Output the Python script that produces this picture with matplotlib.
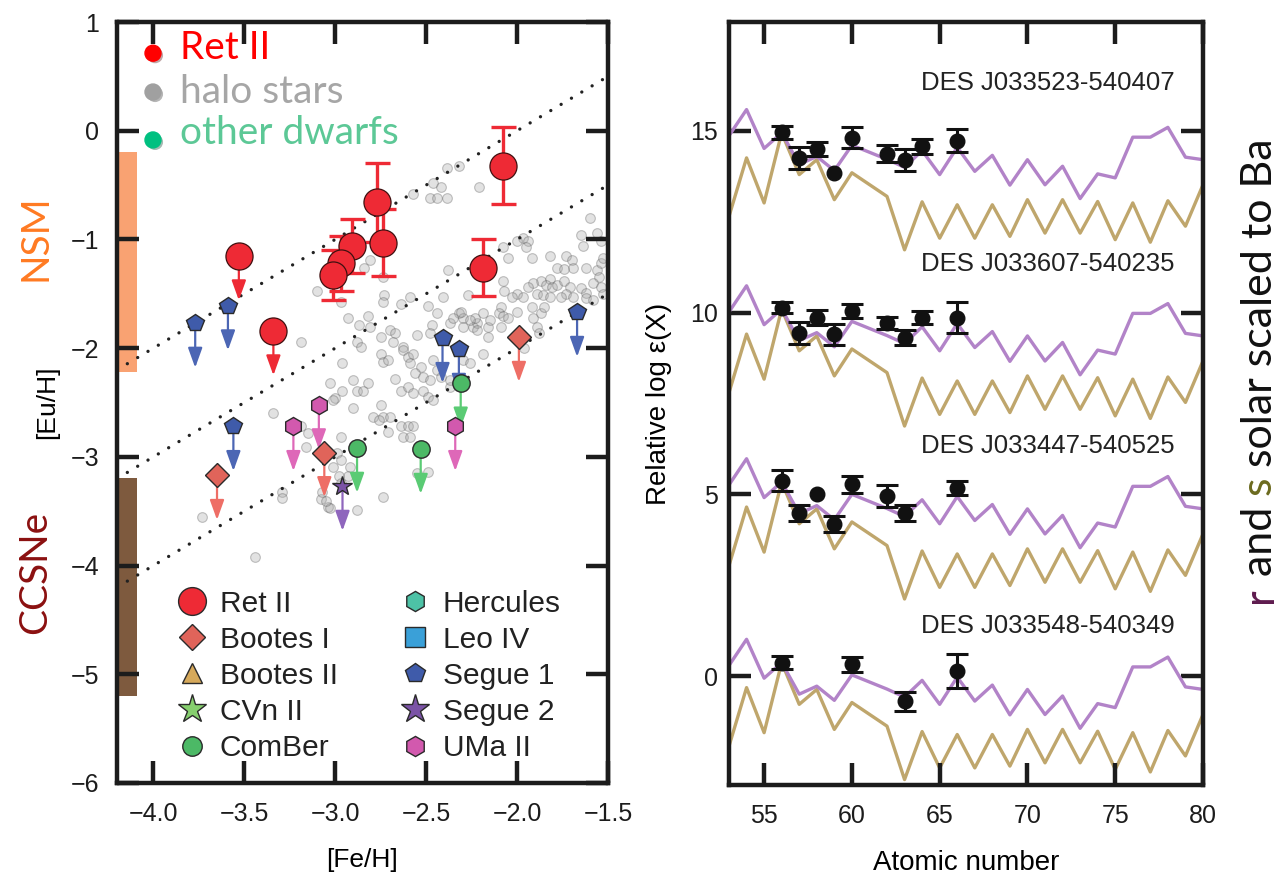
import numpy as np
import matplotlib
matplotlib.use("Agg")
import matplotlib.pyplot as plt
from matplotlib.lines import Line2D
from matplotlib.patches import Rectangle
from matplotlib.font_manager import FontProperties
import matplotlib.patheffects as pe

plt.rcParams['font.family'] = ['Liberation Sans', 'DejaVu Sans']
plt.rcParams['axes.unicode_minus'] = True

# ---------------- left panel: [Eu/H] vs [Fe/H] ----------------
halo_stars = [
    (-2.385, -0.34), (-2.32, -0.32), (-2.46, -0.48), (-2.42, -0.52), (-2.48, -0.62), (-2.44, -0.62),
    (-2.385, -0.62), (-2.21, -0.52), (-2.57, -0.58), (-1.60, -0.80), (-1.65, -0.96), (-1.56, -0.94),
    (-1.54, -1.01), (-1.64, -1.06), (-1.97, -0.99), (-2.00, -1.01), (-2.08, -1.07), (-1.94, -1.01),
    (-1.95, -1.07), (-1.92, -1.17), (-2.05, -1.17), (-1.82, -1.15), (-1.73, -1.15), (-1.70, -1.19),
    (-1.69, -1.26), (-1.56, -1.28), (-1.54, -1.22), (-1.55, -1.35), (-1.53, -1.17), (-1.62, -1.26),
    (-1.78, -1.26), (-1.74, -1.27), (-1.82, -1.36), (-1.87, -1.38), (-1.91, -1.40), (-1.94, -1.44),
    (-1.84, -1.42), (-1.81, -1.44), (-1.78, -1.42), (-1.74, -1.38), (-1.71, -1.44), (-1.73, -1.50),
    (-1.76, -1.53), (-1.69, -1.53), (-1.65, -1.45), (-1.62, -1.49), (-1.58, -1.40), (-1.54, -1.44),
    (-1.53, -1.50), (-2.00, -1.50), (-1.97, -1.53), (-2.03, -1.53), (-2.08, -1.38), (-2.07, -1.47),
    (-1.89, -1.50), (-1.86, -1.51), (-1.82, -1.53), (-2.09, -1.62), (-2.10, -1.68), (-2.08, -1.70),
    (-2.05, -1.72), (-2.00, -1.67), (-1.92, -1.62), (-1.91, -1.72), (-1.87, -1.68), (-1.85, -1.62),
    (-2.32, -1.68), (-2.30, -1.72), (-2.24, -1.81), (-2.22, -1.77), (-2.23, -1.72), (-2.19, -1.68),
    (-2.16, -1.81), (-2.15, -1.74), (-2.09, -1.81), (-2.27, -1.51), (-2.26, -1.74), (-2.30, -1.81),
    (-2.37, -1.77), (-2.35, -1.72), (-1.96, -2.00), (-1.89, -1.81), (-1.88, -1.86), (-1.62, -1.54),
    (-1.58, -1.56), (-2.30, -2.11), (-2.26, -2.14), (-2.37, -2.36), (-2.81, -1.19), (-2.84, -1.26),
    (-3.10, -1.47), (-2.97, -1.58), (-2.73, -1.51), (-2.74, -1.58), (-2.64, -1.59), (-2.59, -1.53),
    (-2.49, -1.61), (-2.41, -1.53), (-2.38, -1.28), (-2.31, -1.67), (-2.93, -1.72), (-2.82, -1.70),
    (-2.87, -1.79), (-2.81, -1.81), (-2.75, -1.90), (-2.70, -1.83), (-2.67, -1.86), (-2.68, -1.94),
    (-2.63, -1.99), (-2.55, -1.88), (-2.47, -1.79), (-2.48, -1.86), (-3.19, -1.94), (-2.96, -2.14),
    (-2.88, -1.94), (-2.86, -1.99), (-2.75, -2.05), (-2.74, -2.13), (-2.71, -2.11), (-2.63, -2.02),
    (-2.60, -2.08), (-2.59, -2.14), (-2.57, -2.05), (-2.53, -2.17), (-2.56, -2.23), (-2.52, -2.27),
    (-2.46, -2.11), (-2.44, -2.20), (-2.48, -2.29), (-2.42, -2.27), (-2.37, -2.29), (-2.67, -2.28),
    (-2.64, -2.39), (-2.60, -2.36), (-2.57, -2.41), (-2.52, -2.39), (-2.49, -2.45), (-2.46, -2.48),
    (-2.90, -2.29), (-2.88, -2.39), (-2.82, -2.32), (-2.85, -2.39), (-3.03, -2.32), (-3.00, -2.46),
    (-2.90, -2.55), (-2.75, -2.52), (-2.74, -2.63), (-2.70, -2.63), (-2.79, -2.63), (-2.76, -2.66),
    (-2.64, -2.72), (-2.60, -2.72), (-2.57, -2.72), (-2.63, -2.82), (-2.59, -2.82), (-2.71, -2.77),
    (-3.16, -2.91), (-3.19, -2.72), (-2.97, -2.82), (-2.99, -2.96), (-2.97, -3.03), (-3.01, -3.09),
    (-2.92, -3.09), (-2.93, -3.18), (-2.49, -3.14), (-2.55, -3.15), (-3.08, -3.39), (-3.04, -3.46),
    (-3.03, -3.47), (-2.74, -3.37), (-2.88, -3.49), (-2.74, -1.35), (-3.34, -2.60), (-3.01, -2.48),
    (-2.96, -2.39), (-3.15, -2.78), (-3.73, -3.55), (-3.44, -3.92), (-3.29, -3.32), (-3.29, -3.38),
    (-3.07, -3.32), (-3.05, -3.41), (-2.98, -3.18), (-2.97, -3.24), (-2.22, -1.83), (-2.16, -1.90),
    (-2.19, -2.05), (-2.44, -1.68),
]

retii_feh = [-2.77, -2.74, -2.91, -2.97, -3.01, -2.08, -2.19]
retii_euh = [-0.66, -1.03, -1.06, -1.22, -1.33, -0.32, -1.26]
retii_err = [0.36, 0.31, 0.25, 0.25, 0.23, 0.35, 0.26]
retii_lim_feh = [-3.53, -3.34]
retii_lim_euh = [-1.15, -1.84]

segue1_feh = [-3.77, -3.59, -3.56, -2.41, -2.32, -1.67]
segue1_euh = [-1.77, -1.61, -2.72, -1.91, -2.01, -1.67]
bootes1_feh = [-1.99, -3.06, -3.65]
bootes1_euh = [-1.90, -2.96, -3.17]
comber_feh = [-2.31, -2.88, -2.53]
comber_euh = [-2.32, -2.92, -2.93]
umaii_feh = [-3.09, -3.23, -2.34]
umaii_euh = [-2.52, -2.72, -2.72]
segue2_feh = [-2.96]
segue2_euh = [-3.27]

ref_offsets = [2.0, 1.0, 0.0]          # [Eu/H] = [Fe/H] + offset
nsm_range = (-0.20, -2.22)
ccsne_range = (-3.19, -5.20)

legend_names = ["Ret II", "Bootes I", "Bootes II", "CVn II", "ComBer",
                "Hercules", "Leo IV", "Segue 1", "Segue 2", "UMa II"]

# ---------------- right panel: abundance patterns ----------------
Z = [53, 54, 55, 56, 57, 58, 59, 60, 62, 63, 64, 65, 66, 67, 68, 69, 70,
     71, 72, 73, 74, 75, 76, 77, 78, 79, 80]
r_solar_rel_ba = [-0.08, 0.64, -0.43, 0.00, -0.87, -0.65, -1.04, -0.34, -0.73, -0.95,
                  -0.49, -1.15, -0.40, -1.06, -0.62, -1.44, -0.74, -1.43, -0.92, -1.81,
                  -1.13, -1.24, -0.12, -0.12, 0.15, -0.67, -0.74]
s_solar_rel_ba = [-2.30, -0.69, -1.93, 0.00, -1.15, -0.74, -1.84, -1.10, -1.75, -3.22,
                  -1.90, -2.90, -1.98, -2.90, -1.98, -2.85, -1.84, -2.76, -1.84, -2.76,
                  -1.89, -2.94, -1.93, -3.01, -1.87, -2.57, -1.43]

star_names = ["DES J033523-540407", "DES J033607-540235",
              "DES J033447-540525", "DES J033548-540349"]
star_ba = [14.95, 10.10, 5.34, 0.37]
star_label_y = [16.33, 11.34, 6.33, 1.38]
obs_z = [[56, 57, 58, 59, 60, 62, 63, 64, 66],
         [56, 57, 58, 59, 60, 62, 63, 64, 66],
         [56, 57, 58, 59, 60, 62, 63, 66],
         [56, 60, 63, 66]]
obs_val = [[14.96, 14.25, 14.50, 13.85, 14.81, 14.38, 14.21, 14.58, 14.73],
           [10.14, 9.45, 9.86, 9.40, 10.05, 9.72, 9.31, 9.86, 9.86],
           [5.37, 4.49, 5.00, 4.18, 5.28, 4.95, 4.49, 5.18],
           [0.37, 0.32, -0.69, 0.14]]
obs_err = [[0.19, 0.30, 0.20, 0.00, 0.29, 0.24, 0.30, 0.20, 0.32],
           [0.16, 0.30, 0.20, 0.30, 0.20, 0.17, 0.20, 0.18, 0.43],
           [0.29, 0.23, 0.00, 0.23, 0.23, 0.30, 0.23, 0.20],
           [0.19, 0.21, 0.26, 0.46]]

# ---------------- figure ----------------
W, H = 1279, 884
fig = plt.figure(figsize=(W / 100, H / 100), dpi=100)


def px_box(l, t, r, b):
    return [l / W, 1 - b / H, (r - l) / W, (b - t) / H]


axL = fig.add_axes(px_box(117, 22, 608, 783))
axR = fig.add_axes(px_box(729, 22, 1203, 785))

ink = '#1c1c1c'
for ax in (axL, axR):
    for s in ax.spines.values():
        s.set_linewidth(3.2)
        s.set_color(ink)
        s.set_zorder(10)
    ax.tick_params(which='major', direction='in', length=16, width=3.2,
                   top=True, right=True, labelsize=18, colors=ink)

# left panel
axL.set_xlim(-4.2, -1.5)
axL.set_ylim(-6, 1)
axL.set_xticks([-4.0, -3.5, -3.0, -2.5, -2.0, -1.5])
axL.set_yticks(range(-6, 2))
axL.tick_params(axis='y', pad=13)
axL.tick_params(axis='x', pad=14)
axL.set_xlabel('[Fe/H]', fontsize=19)
axL.xaxis.set_label_coords(0.5, -0.085)
axL.set_ylabel('[Eu/H]', fontsize=19)
axL.yaxis.set_label_coords(-0.118, 0.5)

# model ranges
axL.add_patch(Rectangle((-4.187, nsm_range[1]), 0.097, nsm_range[0] - nsm_range[1],
                        facecolor='#F9A272', edgecolor='none', zorder=0.5))
axL.add_patch(Rectangle((-4.187, ccsne_range[1]), 0.097, ccsne_range[0] - ccsne_range[1],
                        facecolor='#7E5A3E', edgecolor='none', zorder=0.5))

# halo stars
halo_feh, halo_euh = np.array(halo_stars).T
axL.plot(halo_feh, halo_euh, 'o', ls='none', ms=7, mfc='#a8a8a8', mec='#505050',
         mew=0.8, alpha=0.33, zorder=1)

# reference lines of slope one
xx = np.array(axL.get_xlim())
for c in ref_offsets:
    axL.plot(xx, xx + c, color='#222222', lw=2.4, ls=(0, (0.01, 3.6)),
             dash_capstyle='round', zorder=2)

arrow_len = 0.41


def limit_arrows(xs, ys, color):
    for x, y in zip(xs, ys):
        axL.annotate('', xy=(x, y - arrow_len), xytext=(x, y),
                     arrowprops=dict(arrowstyle='-|>,head_length=0.75,head_width=0.27',
                                     color=color, lw=1.6, shrinkA=0, shrinkB=0,
                                     mutation_scale=16),
                     zorder=3)


edge = '#2a2a2a'
# dwarf galaxy upper limits
limit_arrows(segue1_feh, segue1_euh, '#4C66B4')
limit_arrows(bootes1_feh, bootes1_euh, '#EE6E66')
limit_arrows(comber_feh, comber_euh, '#5ACB74')
limit_arrows(umaii_feh, umaii_euh, '#DE68B8')
limit_arrows(segue2_feh, segue2_euh, '#8F66BD')
limit_arrows(retii_lim_feh, retii_lim_euh, '#EE2A35')

axL.plot(segue1_feh, segue1_euh, 'p', ls='none', ms=13, mfc='#3F5BAA', mec=edge, mew=1, zorder=4)
axL.plot(bootes1_feh, bootes1_euh, 'D', ls='none', ms=12.5, mfc='#E0645A', mec=edge, mew=1, zorder=4)
axL.plot(comber_feh, comber_euh, 'o', ls='none', ms=12.5, mfc='#4CB966', mec=edge, mew=1, zorder=4)
axL.plot(umaii_feh, umaii_euh, 'h', ls='none', ms=13, mfc='#D259AE', mec=edge, mew=1, zorder=4)
axL.plot(segue2_feh, segue2_euh, '*', ls='none', ms=15, mfc='#7B53A6', mec=edge, mew=1, zorder=4)

# Ret II
axL.errorbar(retii_feh, retii_euh, yerr=retii_err, fmt='none', ecolor='#EE2A35',
             elinewidth=2.4, capsize=9, capthick=2.4, zorder=5)
axL.plot(retii_feh, retii_euh, 'o', ls='none', ms=19.5, mfc='#EE2A35', mec='#401010', mew=0.9, zorder=6)
axL.plot(retii_lim_feh, retii_lim_euh, 'o', ls='none', ms=19.5, mfc='#EE2A35', mec='#401010', mew=0.9, zorder=6)

# legend
legend_style = {
    "Ret II": ('o', '#EE2A35', 20),
    "Bootes I": ('D', '#E0645A', 13.5),
    "Bootes II": ('^', '#D6A95B', 14),
    "CVn II": ('*', '#86CF6E', 21),
    "ComBer": ('o', '#4CB966', 14),
    "Hercules": ('h', '#4DC2A6', 14.5),
    "Leo IV": ('s', '#3AA0D8', 14),
    "Segue 1": ('p', '#3F5BAA', 14.5),
    "Segue 2": ('*', '#7B53A6', 21),
    "UMa II": ('h', '#D259AE', 14.5),
}
handles = []
for name in legend_names:
    m, c, s = legend_style[name]
    handles.append(Line2D([], [], ls='none', marker=m, ms=s, mfc=c, mec=edge, mew=1, label=name))
leg = axL.legend(handles=handles, ncol=2, loc='upper left', bbox_to_anchor=(0.110, 0.254),
                 frameon=False, fontsize=21.5, handlelength=1.4, handletextpad=0.24,
                 labelspacing=0.27, columnspacing=1.87, borderpad=0, borderaxespad=0)
for t in leg.get_texts():
    t.set_color('#222222')

# overlay key at the top of the left panel
shadow = [pe.SimplePatchShadow(offset=(1.5, -1.5), alpha=0.35), pe.Normal()]
key_items = [("Ret II", '#FF0000', '#FF0000', 0.959, 0.952),
             ("halo stars", '#A0A0A0', '#A6A6A6', 0.908, 0.894),
             ("other dwarfs", '#00C080', '#5CC896', 0.845, 0.840)]
for label, dot_c, txt_c, ydot, ytxt in key_items:
    axL.plot([0.0733], [ydot], 'o', ms=11.5, color=dot_c, transform=axL.transAxes,
             clip_on=False, zorder=8, path_effects=shadow)
    axL.text(0.128, ytxt, label, color=txt_c, fontsize=28, family=['Lato', 'DejaVu Sans'],
             transform=axL.transAxes, va='baseline', ha='left', zorder=8)

fig.text(35 / W, 1 - 238 / H, 'NSM', rotation=90, ha='center', va='center',
         fontsize=28, color='#FF7A22', family=['Lato', 'DejaVu Sans'])
fig.text(35 / W, 1 - 572 / H, 'CCSNe', rotation=90, ha='center', va='center',
         fontsize=28, color='#8B1010', family=['Lato', 'DejaVu Sans'])

# right panel
axR.set_xlim(53, 80)
axR.set_ylim(-3, 18)
axR.set_xticks(range(55, 81, 5))
axR.set_yticks([0, 5, 10, 15])
axR.tick_params(axis='y', pad=8)
axR.tick_params(axis='x', pad=14)
axR.set_xlabel('Atomic number', fontsize=20)
axR.xaxis.set_label_coords(0.5, -0.085)
axR.set_ylabel('Relative log ε(X)', fontsize=20)
axR.yaxis.set_label_coords(-0.12, 0.5)

r_line = np.array(r_solar_rel_ba)
s_line = np.array(s_solar_rel_ba)
for ba, name, ly, zs, vals, errs in zip(star_ba, star_names, star_label_y, obs_z, obs_val, obs_err):
    axR.plot(Z, s_line + ba, color='#BFA66C', lw=2.4, zorder=1)
    axR.plot(Z, r_line + ba, color='#B283C8', lw=2.4, zorder=2)
    zs = np.array(zs, float)
    vals = np.array(vals)
    errs = np.array(errs)
    has = errs > 0
    axR.errorbar(zs[has], vals[has], yerr=errs[has], fmt='none', ecolor='#111111',
                 elinewidth=2.2, capsize=8, capthick=2.2, zorder=3)
    axR.plot(zs, vals, 'o', ls='none', ms=10.5, color='#111111', zorder=4)
    axR.text(78.4, ly, name, ha='right', va='center', fontsize=18.5, color='#222222')

# vertical caption on the right edge, with coloured r and s:
# each piece is placed after the advance of the previous ones
renderer = fig.canvas.get_renderer()
cap_fp = FontProperties(family=['Lato', 'DejaVu Sans'], size=31)


def ink_width(s):
    t = fig.text(0, 0, s, fontproperties=cap_fp)
    w = t.get_window_extent(renderer).width
    t.remove()
    return w


def advance(s):
    return ink_width('|' + s + '|') - ink_width('||')


cap_pieces = [('r', '#5E1B4E'), (' and', '#111111'), (' s', '#6B6A1E'),
              (' solar scaled to Ba', '#111111')]
cap_x, cap_y = 1272, 603
for piece, col in cap_pieces:
    fig.text(cap_x / W, 1 - cap_y / H, piece, color=col, fontproperties=cap_fp,
             rotation=90, rotation_mode='anchor', ha='left', va='baseline')
    cap_y -= advance(piece)

fig.savefig('out.png', dpi=100)
